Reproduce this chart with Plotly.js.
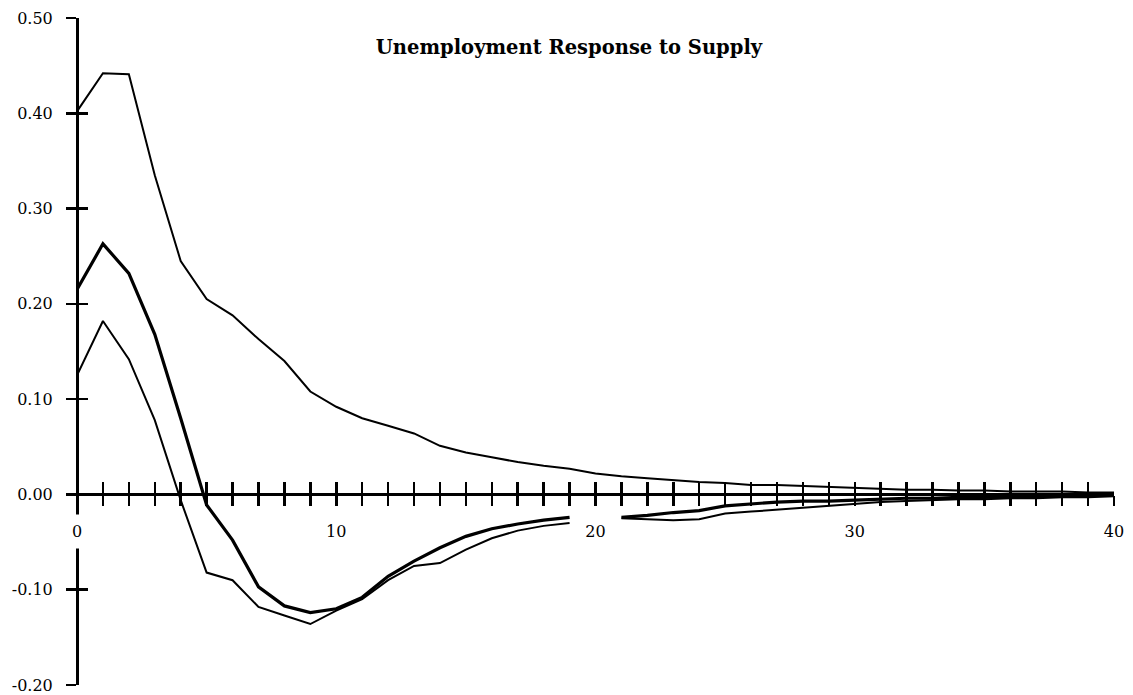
<!DOCTYPE html>
<html>
<head>
<meta charset="utf-8">
<script src="https://cdn.plot.ly/plotly-3.0.1.min.js"></script>
<style>
html, body { margin: 0; padding: 0; background: #ffffff; }
#chart { width: 1133px; height: 695px; }
</style>
</head>
<body>
<div id="chart"></div>
<script>
// Horizon (periods after the shock)
const horizon = [0,1,2,3,4,5,6,7,8,9,10,11,12,13,14,15,16,17,18,19,20,
                 21,22,23,24,25,26,27,28,29,30,31,32,33,34,35,36,37,38,39,40];

// Upper confidence band
const upperBand = [0.402,0.442,0.441,0.335,0.245,0.205,0.188,0.163,0.140,0.108,0.092,
                   0.080,0.072,0.064,0.051,0.044,0.039,0.034,0.030,0.027,0.022,
                   0.019,0.017,0.015,0.013,0.012,0.010,0.010,0.009,0.008,0.007,
                   0.006,0.005,0.005,0.004,0.004,0.003,0.003,0.003,0.002,0.002];

// Point estimate of the impulse response
const response = [0.215,0.263,0.232,0.168,0.080,-0.011,-0.048,-0.097,-0.117,-0.124,-0.120,
                  -0.108,-0.086,-0.070,-0.056,-0.044,-0.036,-0.031,-0.027,-0.024,null,
                  -0.024,-0.022,-0.019,-0.017,-0.012,-0.010,-0.008,-0.007,-0.007,-0.006,
                  -0.005,-0.004,-0.004,-0.003,-0.003,-0.002,-0.002,-0.002,-0.001,-0.001];

// Lower confidence band
const lowerBand = [0.125,0.182,0.142,0.078,-0.006,-0.082,-0.090,-0.118,-0.127,-0.136,-0.122,
                   -0.110,-0.090,-0.075,-0.072,-0.058,-0.046,-0.038,-0.033,-0.030,null,
                   -0.025,-0.026,-0.027,-0.026,-0.020,-0.018,-0.016,-0.014,-0.012,-0.010,
                   -0.008,-0.007,-0.006,-0.005,-0.005,-0.004,-0.004,-0.003,-0.003,-0.002];

// Tick labels
const xLabelled = [10, 20, 30, 40];
const yTickVals = [-0.2, -0.1, 0.0, 0.1, 0.2, 0.3, 0.4, 0.5];
const yTickText = ['-0.20', '-0.10', '0.00', '0.10', '0.20', '0.30', '0.40', '0.50'];
const originLabel = '0';
const titleText = 'Unemployment Response to Supply';

const xRange = [0, 40];
const yRange = [-0.2, 0.5];

const xTickText = horizon.map(h => xLabelled.includes(h) ? String(h) : '');
const zeroPos = (0 - yRange[0]) / (yRange[1] - yRange[0]);

const fontFam = 'DejaVu Serif';
const ink = '#000000';

const traces = [
  { x: horizon, y: upperBand, type: 'scatter', mode: 'lines',
    line: { color: ink, width: 2 }, connectgaps: false, hoverinfo: 'skip', showlegend: false },
  { x: horizon, y: lowerBand, type: 'scatter', mode: 'lines',
    line: { color: ink, width: 2 }, connectgaps: false, hoverinfo: 'skip', showlegend: false },
  { x: horizon, y: response, type: 'scatter', mode: 'lines',
    line: { color: ink, width: 3.2 }, connectgaps: false, hoverinfo: 'skip', showlegend: false },
  // carrier for the overlay axes that draw the inner half of the crossing ticks
  { x: horizon, y: response, type: 'scatter', mode: 'lines', xaxis: 'x2', yaxis: 'y2',
    line: { color: 'rgba(0,0,0,0)', width: 0 }, hoverinfo: 'skip', showlegend: false }
];

const layout = {
  width: 1133, height: 695,
  margin: { l: 77, r: 19, t: 18, b: 10, pad: 0 },
  paper_bgcolor: '#ffffff', plot_bgcolor: '#ffffff',
  showlegend: false,
  title: {
    text: titleText,
    x: 569 / 1133, xanchor: 'center', xref: 'container',
    y: 1 - 47 / 695, yanchor: 'middle', yref: 'container',
    font: { family: fontFam, size: 19.5, color: ink, weight: 'bold' }
  },
  xaxis: {
    range: xRange, anchor: 'free', position: zeroPos,
    showline: true, linecolor: ink, linewidth: 2.5,
    ticks: 'outside', ticklen: 10, tickwidth: 2.5, tickcolor: ink,
    tickmode: 'array', tickvals: horizon, ticktext: xTickText,
    ticklabelstandoff: 12, ticklabeloverflow: 'allow',
    tickfont: { family: fontFam, size: 16, color: ink },
    showgrid: false, zeroline: false, fixedrange: true
  },
  xaxis2: {
    range: xRange, overlaying: 'x', anchor: 'free', position: zeroPos, side: 'bottom',
    showline: false, ticks: 'inside', ticklen: 12, tickwidth: 2.5, tickcolor: ink,
    tickmode: 'array', tickvals: horizon, showticklabels: false,
    showgrid: false, zeroline: false, fixedrange: true
  },
  yaxis: {
    range: yRange, anchor: 'free', position: 0, side: 'left',
    showline: true, linecolor: ink, linewidth: 2.5,
    ticks: 'outside', ticklen: 10, tickwidth: 2.5, tickcolor: ink,
    tickmode: 'array', tickvals: yTickVals, ticktext: yTickText,
    ticklabelstandoff: 10, ticklabeloverflow: 'allow',
    tickfont: { family: fontFam, size: 16, color: ink },
    showgrid: false, zeroline: false, fixedrange: true
  },
  yaxis2: {
    range: yRange, overlaying: 'y', anchor: 'free', position: 0, side: 'left',
    showline: false, ticks: 'inside', ticklen: 10, tickwidth: 2.5, tickcolor: ink,
    tickmode: 'array', tickvals: yTickVals, showticklabels: false,
    showgrid: false, zeroline: false, fixedrange: true
  },
  annotations: [
    { x: 0, y: 0, xref: 'x', yref: 'y', text: originLabel, showarrow: false,
      yshift: -37, bgcolor: '#ffffff', borderpad: 7,
      font: { family: fontFam, size: 16, color: ink } }
  ]
};

Plotly.newPlot('chart', traces, layout, { staticPlot: true, displayModeBar: false });
</script>
</body>
</html>
